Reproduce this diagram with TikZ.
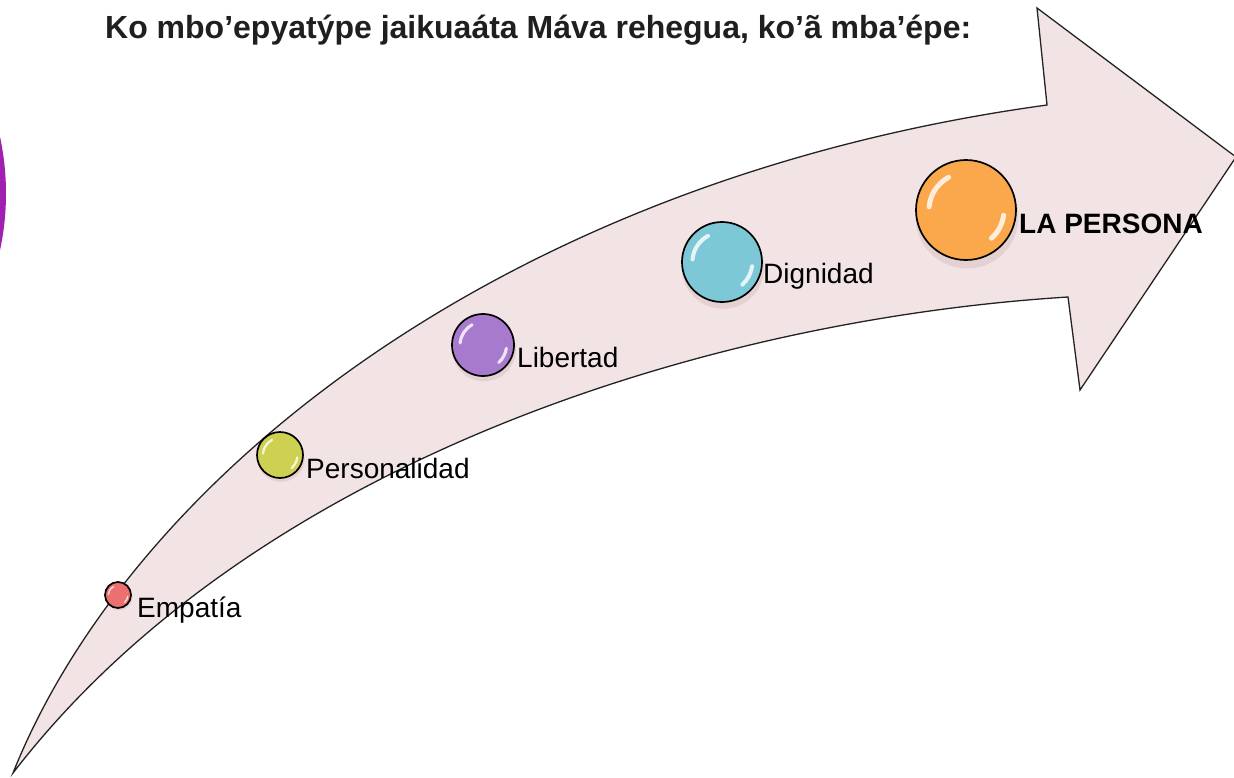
\documentclass[tikz,border=0pt]{standalone}
\usepackage{fontspec}
\setmainfont{Liberation Sans}
\usetikzlibrary{calc}
\definecolor{arrowfill}{RGB}{242,228,228}
\definecolor{arrowline}{RGB}{35,35,35}
\definecolor{crescent}{RGB}{160,32,176}
\definecolor{ballred}{RGB}{236,112,112}
\definecolor{ballolive}{RGB}{205,208,80}
\definecolor{ballpurple}{RGB}{168,122,205}
\definecolor{ballcyan}{RGB}{125,200,215}
\definecolor{ballorange}{RGB}{250,168,75}
\definecolor{shadowpink}{RGB}{215,185,190}
\tikzset{
  arrowbody/.style={fill=arrowfill, draw=arrowline, line width=1.3pt, line join=miter},
  ballnode/.style={circle, draw=black, line width=1.7pt, inner sep=0pt},
  ballshadow/.style={fill=shadowpink, opacity=0.45},
  hilite/.style={draw=white, opacity=0.8, line cap=round},
  lbl/.style={anchor=base west, inner sep=0pt, font=\fontsize{28}{31}\selectfont, text=black},
  titletext/.style={anchor=base west, inner sep=0pt, font=\fontsize{32}{36}\selectfont\bfseries, text=black!88}
}
\newcommand{\gball}[4]{%
  \fill[ballshadow] ($#2+(1,0.14*#3)$) circle[radius=1.03*#3pt];
  \node[ballnode, minimum size=2*#3pt, fill=#4] (#1) at #2 {};
  \draw[hilite, line width=0.1*#3pt] ($(#1.center)+(118:0.74*#3pt)$) arc[start angle=118, end angle=175, radius=0.74*#3pt];
  \draw[hilite, line width=0.1*#3pt] ($(#1.center)+(-8:0.76*#3pt)$) arc[start angle=-8, end angle=-48, radius=0.76*#3pt];
}
\begin{document}
\begin{tikzpicture}[x=1pt,y=-1pt]
\useasboundingbox (0,0) rectangle (1234,777);
% purple crescent at the left border
\fill[crescent] (-263,193.5) circle[radius=269pt];
% curved arrow
\draw[arrowbody] (13,773) .. controls (130,480) and (500,180) .. (1047,105)
  -- (1037,8) -- (1236,157) -- (1080,390) -- (1068,297)
  .. controls (700,320) and (250,465) .. (13,773) -- cycle;
% title
\node[titletext] (title) at (105,38) {Ko mbo’epyatýpe jaikuaáta Máva rehegua, ko’ã mba’épe:};
% balls
\gball{b1}{(118,595)}{13}{ballred}
\gball{b2}{(280,455)}{23}{ballolive}
\gball{b3}{(483,345)}{31}{ballpurple}
\gball{b4}{(722,262)}{40}{ballcyan}
\gball{b5}{(966,210)}{50}{ballorange}
% labels
\node[lbl] (t1) at (137,617) {Empatía};
\node[lbl] (t2) at (306,478) {Personalidad};
\node[lbl] (t3) at (517,367) {Libertad};
\node[lbl] (t4) at (763,283) {Dignidad};
\node[lbl, font=\fontsize{28}{31}\selectfont\bfseries] (t5) at (1019,233) {LA PERSONA};
\end{tikzpicture}
\end{document}
